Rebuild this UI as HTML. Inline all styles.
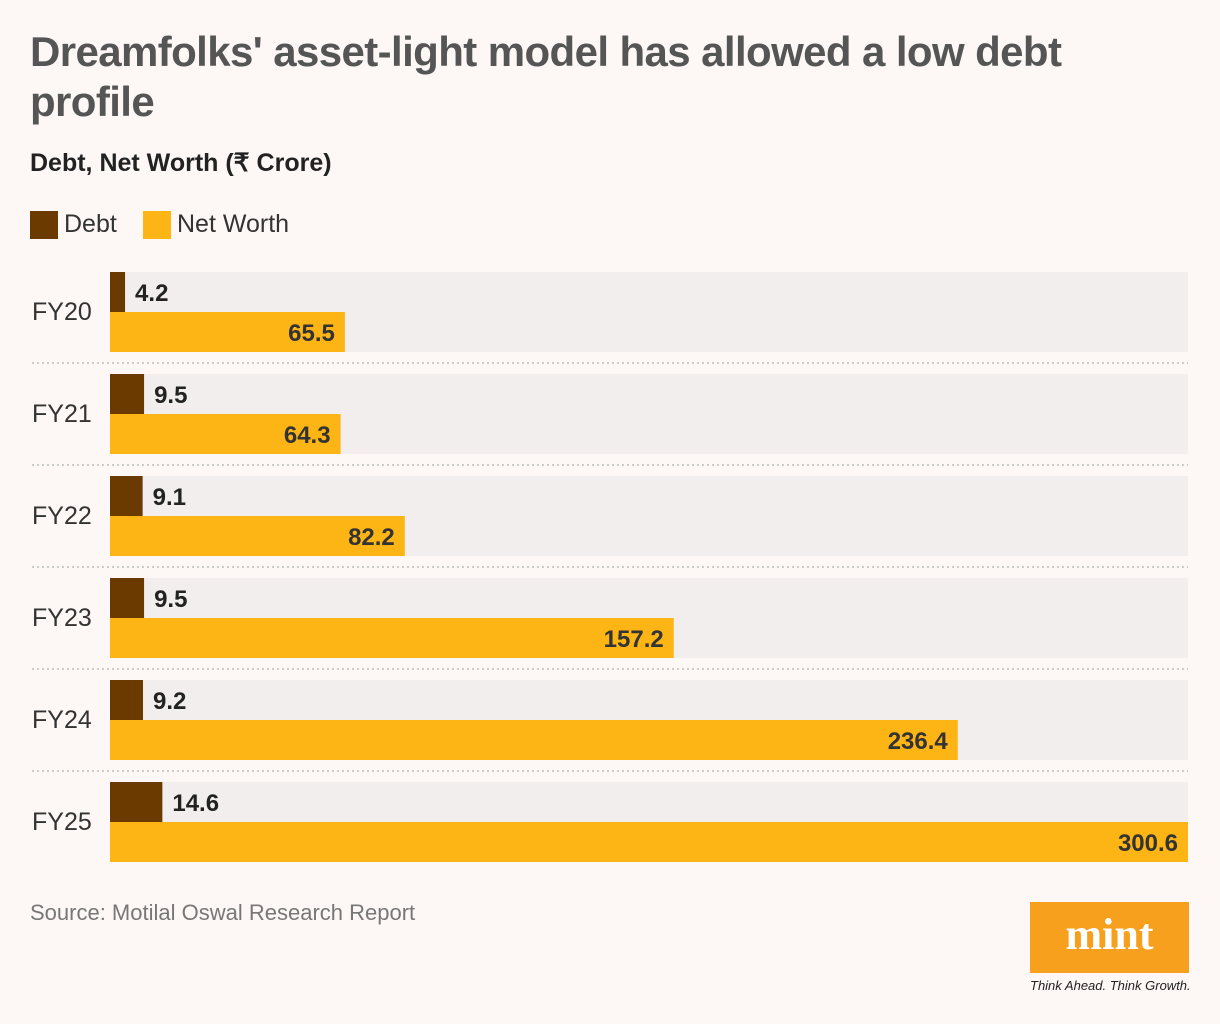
<!DOCTYPE html>
<html><head><meta charset="utf-8"><style>
body{margin:0;width:1220px;height:1024px;background:#fdf8f6;font-family:"Liberation Sans",sans-serif;position:relative;overflow:hidden}
.t{position:absolute;left:30px;top:27px;font-size:42px;font-weight:bold;color:#555;line-height:50px;letter-spacing:-0.6px;width:1080px}
.s{position:absolute;left:30px;top:148px;font-size:25px;font-weight:bold;color:#222}
.lg{position:absolute;top:210px;font-size:25px;color:#333;display:flex;align-items:center}
.sw{width:28px;height:28px;display:inline-block;margin-right:6px}
.src{position:absolute;left:30px;top:900px;font-size:22px;color:#777}
</style></head><body>
<div class="t">Dreamfolks' asset-light model has allowed a low debt profile</div>
<div class="s">Debt, Net Worth (₹ Crore)</div>
<div class="lg" style="left:30px"><span class="sw" style="background:#6b3a00"></span>Debt</div>
<div class="lg" style="left:143px"><span class="sw" style="background:#fdb515"></span>Net Worth</div>
<svg id="ch" width="1220" height="1024" style="position:absolute;left:0;top:0"></svg>
<div class="src">Source: Motilal Oswal Research Report</div>
<div style="position:absolute;left:1030px;top:902px;width:159px;height:71px;background:#f7a01e;color:#fff;font-family:'Liberation Serif',serif;font-weight:bold;font-size:44px;text-align:center;line-height:66px">mint</div>
<div style="position:absolute;left:1030px;top:978px;font-size:13px;font-style:italic;color:#222">Think Ahead. Think Growth.</div>
<script>
const categories=["FY20","FY21","FY22","FY23","FY24","FY25"];
const debt=[4.2,9.5,9.1,9.5,9.2,14.6];
const netWorth=[65.5,64.3,82.2,157.2,236.4,300.6];
const svg=document.getElementById('ch');
const NS='http://www.w3.org/2000/svg';
const x0=110,x1=1188,maxV=300.6;
const xs=v=>(v/maxV)*(x1-x0);
function mk(t,a,txt){const e=document.createElementNS(NS,t);for(const k in a)e.setAttribute(k,a[k]);if(txt!=null)e.textContent=txt;svg.appendChild(e);return e;}
categories.forEach((c,i)=>{
 const y=272+i*102;
 const band=mk('rect',{x:x0,y:y,width:x1-x0,height:80,fill:'#f2eeed'});
 
 
 const lab=mk('text',{x:32,y:y+48,'font-size':25,fill:'#333','font-family':'Liberation Sans'},c);
 
 
 const wd=xs(debt[i]);
 const bd=mk('rect',{x:x0,y:y,width:wd,height:40,fill:'#6b3a00'});
 
 
 const dl=mk('text',{x:x0+wd+10,y:y+29,'font-size':24,'font-weight':'bold',fill:'#222','font-family':'Liberation Sans'},debt[i].toFixed(1));
 
 
 const wn=xs(netWorth[i]);
 const bn=mk('rect',{x:x0,y:y+40,width:wn,height:40,fill:'#fdb515'});
 
 
 const nl=mk('text',{x:x0+wn-10,y:y+69,'font-size':24,'font-weight':'bold',fill:'#333','text-anchor':'end','font-family':'Liberation Sans'},netWorth[i].toFixed(1));
 
 
 if(i<categories.length-1){
  const sep=mk('line',{x1:32,x2:x1,y1:y+91,y2:y+91,stroke:'#ccc','stroke-width':2,'stroke-dasharray':'2,3'});
  
  
 }
});
</script>
</body></html>
